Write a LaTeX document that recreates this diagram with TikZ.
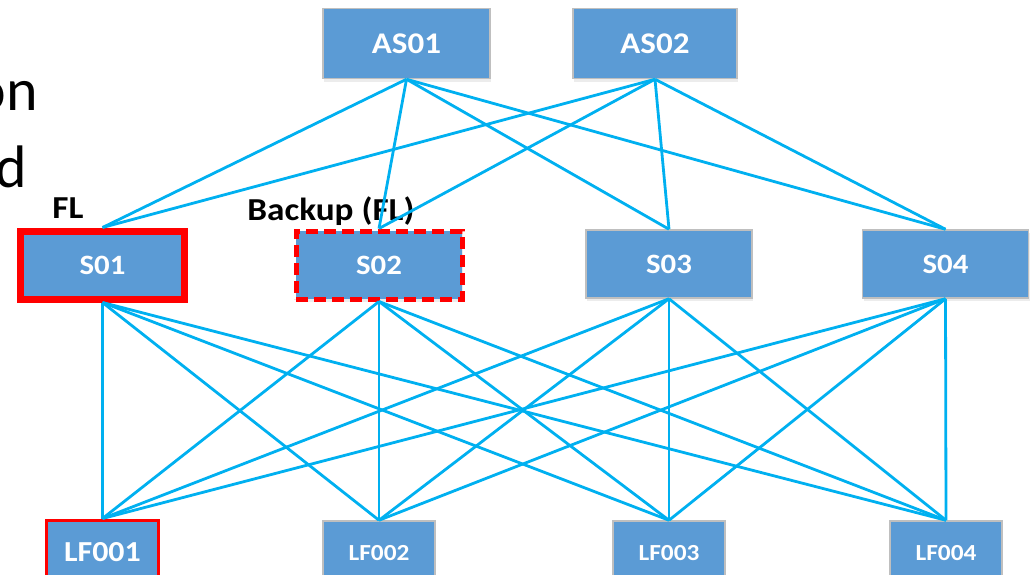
\documentclass[tikz,border=0pt]{standalone}
\usepackage{fontspec}
\setmainfont{Carlito}[FakeStretch=1.1]
\newfontfamily\titlefont{Carlito}
\usepackage{xcolor}
\usepackage{tikz}
\usetikzlibrary{shadows}
\definecolor{NetBlue}{RGB}{91, 155, 213}
\definecolor{NetLink}{RGB}{0, 176, 240}
\definecolor{NetRed}{RGB}{255, 0, 0}
\definecolor{NetEdge}{RGB}{191, 191, 191}

\tikzset{
  switchbox/.style={fill=NetBlue, draw=NetEdge, line width=1.5pt, text=white,
    font=\fontsize{28}{32}\selectfont\bfseries, inner sep=0pt,
    minimum width=166pt, minimum height=68pt,
    drop shadow={opacity=0.15, shadow xshift=1pt, shadow yshift=-3pt}},
  leafbox/.style={switchbox, minimum width=112pt, minimum height=64pt,
    font=\fontsize{23}{26}\selectfont\bfseries},
  link/.style={NetLink, line width=2.8pt},
  tag/.style={font=\fontsize{32}{36}\selectfont\bfseries, inner sep=0pt}
}

\begin{document}
\begin{tikzpicture}[x=1pt, y=-1pt]
    \path[use as bounding box] (0,0) rectangle (1030,574);
    % title text, cut off at the left edge
    \node[anchor=base east, inner sep=0pt, font=\titlefont\fontsize{60}{64}\selectfont] (title1) at (38,110) {on};
    \node[anchor=base east, inner sep=0pt, font=\titlefont\fontsize{60}{64}\selectfont] (title2) at (27,187) {d};

    % aggregation switches
    \node[switchbox, minimum width=167pt, minimum height=70pt, font=\fontsize{30}{34}\selectfont\bfseries] (as01) at (406.5,43.5) {AS01};
    \node[switchbox, minimum width=164pt, minimum height=70pt, font=\fontsize{30}{34}\selectfont\bfseries] (as02) at (655,43.5) {AS02};

    % spine switches
    \node[switchbox, draw=NetRed, line width=7pt, minimum width=164pt] (s01) at (102.5,265) {S01};
    \node[switchbox, draw=NetRed, line width=5pt, dash pattern=on 12pt off 6pt] (s02) at (379,265) {S02};
    \node[switchbox] (s03) at (669,264) {S03};
    \node[switchbox] (s04) at (945.5,264) {S04};

    % leaf switches
    \node[leafbox, draw=NetRed, line width=3pt, font=\fontsize{29}{32}\selectfont\bfseries] (lf001) at (102.5,552) {LF001};
    \node[leafbox] (lf002) at (379,553) {LF002};
    \node[leafbox] (lf003) at (669,553) {LF003};
    \node[leafbox] (lf004) at (946,553) {LF004};

    \node[tag, anchor=base] (fl) at (68,218) {FL};
    \node[tag, anchor=base] (backup) at (331,220) {Backup (FL)};

    % links
    \foreach \agg in {as01,as02}
      \foreach \spine in {s01,s02,s03,s04}
        \draw[link] (\agg.south) -- (\spine.north);
    \foreach \spine in {s01,s02,s03,s04}
      \foreach \leaf in {lf001,lf002,lf003,lf004}
        \draw[link] (\spine.south) -- (\leaf.north);
\end{tikzpicture}
\end{document}
